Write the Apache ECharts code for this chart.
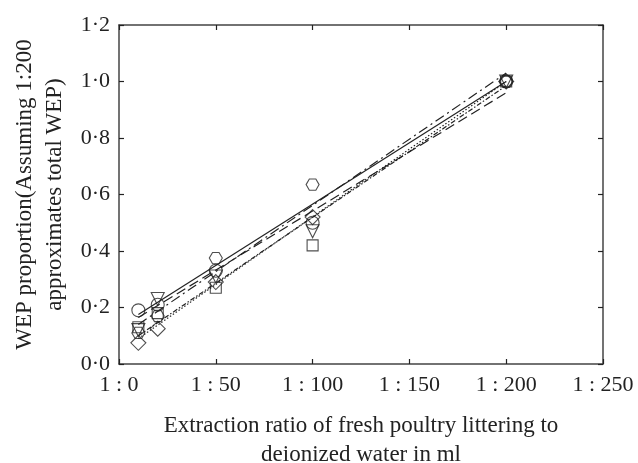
<!DOCTYPE html>
<html><head><meta charset="utf-8">
<script src="https://cdn.jsdelivr.net/npm/echarts@6/dist/echarts.min.js"></script>
<style>html,body{margin:0;padding:0;background:#fff}#c{width:638px;height:463px}</style>
</head><body><div id="c"></div>
<script>
// Extraction ratios (1 : x)
var xValues = [10, 20, 50, 100, 200];
var xTicks = [0, 50, 100, 150, 200, 250];
// Marker series (WEP proportion)
var circleY = [0.19, 0.21, 0.33, 0.50, 1.0];
var squareY = [0.13, 0.18, 0.27, 0.42, 1.0];
var triangleY = [0.12, 0.23, 0.31, 0.47, 1.0];
var diamondY = [0.075, 0.125, 0.29, 0.52, 1.0];
var hexagonY = [0.11, 0.17, 0.375, 0.635, 1.0];
// Fitted lines: values at x = 10 and x = 200
var lineX = [10, 200];
var solidLine = [0.175, 1.0];
var dashLine = [0.165, 0.96];
var dashDotLine = [0.14, 1.03];
var dottedLine = [0.09, 1.0];
var fineDashLine = [0.10, 0.985];

var FONT = '"Liberation Serif","DejaVu Serif",serif';
var hexPath = 'path://M-0.5,-0.866 L0.5,-0.866 L1,0 L0.5,0.866 L-0.5,0.866 L-1,0 Z';
function pts(xs, ys){ return xs.map(function(x,i){return [x, ys[i]];}); }
function scat(name, ys, symbol, size, rot){
  return {type:'scatter', name:name, data:pts(xValues, ys), symbol:symbol, symbolSize:size,
    symbolRotate: rot||0, symbolKeepAspect:true, z:3,
    itemStyle:{color:'rgba(255,255,255,0)', borderColor:'#222', borderWidth:1.1}};
}
function fit(name, ys, dash){
  return {type:'line', name:name, data:pts(lineX, ys), showSymbol:false, symbol:'none', z:2,
    lineStyle:{color:'#222', width:1.2, type:dash}};
}
function axisCommon(){
  return {
    axisLine:{show:true, onZero:false, lineStyle:{color:'#444', width:1.5}},
    axisTick:{show:true, inside:true, length:5, lineStyle:{color:'#222', width:1.2}},
    splitLine:{show:false}
  };
}
var chart = echarts.init(document.getElementById('c'), null, {renderer:'canvas'});
chart.setOption({
  animation:false,
  grid:{left:119, right:35, top:25, bottom:99, containLabel:false, outerBoundsMode:'none'},
  xAxis:[
    Object.assign({type:'value', min:0, max:250, interval:50, position:'bottom',
      axisLabel:{fontFamily:FONT, fontSize:22, color:'#222', margin:10,
        formatter:function(v){return '1 : ' + v;}},
      name:'Extraction ratio of fresh poultry littering to\ndeionized water in ml',
      nameLocation:'middle', nameGap:47,
      nameTextStyle:{fontFamily:FONT, fontSize:23, color:'#222', lineHeight:29}}, axisCommon()),
    Object.assign({type:'value', min:0, max:250, interval:50, position:'top',
      axisLabel:{show:false}}, axisCommon())
  ],
  yAxis:[
    Object.assign({type:'value', min:0, max:1.2, interval:0.2, position:'left',
      axisLabel:{fontFamily:FONT, fontSize:22, color:'#222', margin:9,
        formatter:function(v){return v.toFixed(1).replace('.', '\u00B7');}},
      name:'WEP proportion(Assuming 1:200\napproximates total WEP)',
      nameLocation:'middle', nameGap:49, nameRotate:90,
      nameTextStyle:{fontFamily:FONT, fontSize:23, color:'#222', lineHeight:30}}, axisCommon()),
    Object.assign({type:'value', min:0, max:1.2, interval:0.2, position:'right',
      axisLabel:{show:false}}, axisCommon())
  ],
  series:[
    fit('solid', solidLine, 'solid'),
    fit('dash', dashLine, [10,5]),
    fit('dashdot', dashDotLine, [10,4,2,4]),
    fit('dotted', dottedLine, [1.5,2]),
    fit('finedash', fineDashLine, [5,2,1.5,2]),
    scat('circle', circleY, 'circle', 13),
    scat('square', squareY, 'rect', 11),
    scat('triangle', triangleY, 'triangle', 13, 180),
    scat('diamond', diamondY, 'diamond', 15),
    scat('hexagon', hexagonY, hexPath, 13)
  ]
});
</script></body></html>
